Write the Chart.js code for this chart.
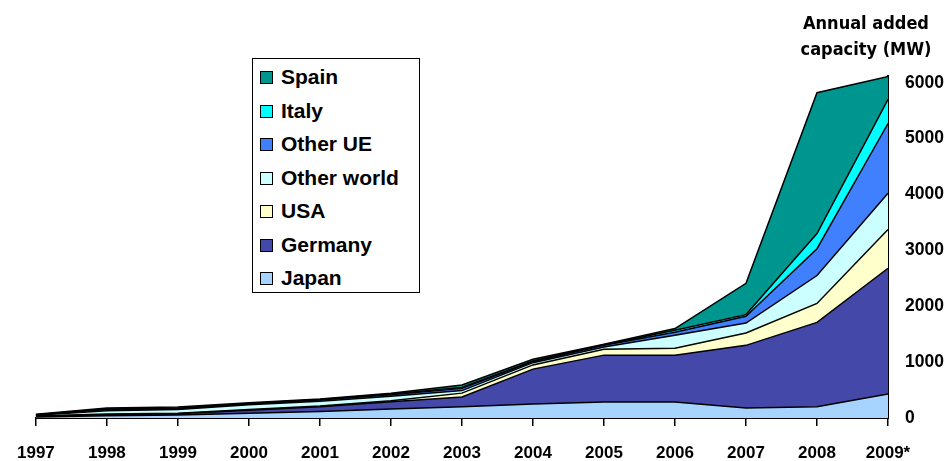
<!DOCTYPE html>
<html><head><meta charset="utf-8">
<script src="https://cdn.jsdelivr.net/npm/chart.js@4.4.0/dist/chart.umd.min.js"></script>
<style>
html,body{margin:0;padding:0;background:#fff;}
#wrap{position:relative;width:950px;height:461px;}
#legend{position:absolute;left:252px;top:58px;width:168px;height:235px;border:1px solid #000;background:#fff;box-sizing:border-box;}
.item{position:absolute;left:0;height:24px;line-height:24px;font:bold 21px "Liberation Sans",Arial,sans-serif;color:#000;white-space:nowrap;}
.sw{position:absolute;left:7px;top:6px;width:11px;height:11px;border:1px solid #000;}
.lab{position:absolute;left:28px;top:0;}
</style></head>
<body><div id="wrap"><canvas id="c" width="950" height="461"></canvas><div id="legend"></div></div>
<script>
const years = ['1997','1998','1999','2000','2001','2002','2003','2004','2005','2006','2007','2008','2009*'];
const japan      = [20, 40, 55, 85, 115, 160, 200, 250, 285, 285, 180, 200, 430];
const germany    = [10, 20, 20, 55, 85, 130, 175, 625, 840, 840, 1120, 1510, 2250];
const usa        = [5, 10, 10, 10, 15, 20, 70, 75, 105, 125, 220, 340, 695];
const otherWorld = [15, 60, 65, 85, 85, 80, 45, 40, 40, 230, 180, 500, 645];
const otherUE    = [5, 20, 15, 15, 20, 25, 40, 20, 30, 55, 120, 480, 1250];
const italy      = [3, 10, 10, 10, 10, 15, 15, 10, 10, 35, 30, 270, 430];
const spain      = [7, 20, 20, 15, 10, 15, 45, 30, 10, 30, 560, 2520, 410];
const yTicks = [0, 1000, 2000, 3000, 4000, 5000, 6000];
const axisTitle = ['Annual added', 'capacity (MW)'];

const series = [
  {label:'Japan', data:japan, color:'#A6D4FF'},
  {label:'Germany', data:germany, color:'#4448A8'},
  {label:'USA', data:usa, color:'#FFFFCC'},
  {label:'Other world', data:otherWorld, color:'#CCFFFF'},
  {label:'Other UE', data:otherUE, color:'#4080FF'},
  {label:'Italy', data:italy, color:'#00FFFF'},
  {label:'Spain', data:spain, color:'#009690'}
];

const titlePlugin = {
  id:'axisTitle',
  afterDraw(chart){
    const ctx = chart.ctx;
    ctx.save();
    ctx.fillStyle = '#000';
    ctx.font = 'bold 18px "DejaVu Sans Condensed","Liberation Sans",sans-serif';
    ctx.textAlign = 'center';
    ctx.textBaseline = 'alphabetic';
    ctx.fillText(axisTitle[0], 866, 29);
    ctx.fillText(axisTitle[1], 866, 55);
    ctx.restore();
  }
};

const chart = new Chart(document.getElementById('c'), {
  type:'line',
  data:{
    labels:years,
    datasets:series.map((s,i)=>({
      label:s.label, data:s.data, backgroundColor:s.color, borderColor:'#000',
      borderWidth:1.5, pointRadius:0, tension:0, fill: i===0 ? 'origin' : '-1'
    }))
  },
  options:{
    responsive:false, animation:false, devicePixelRatio:1,
    layout:{padding:{left:31, top:76, right:0, bottom:0}},
    plugins:{legend:{display:false}, tooltip:{enabled:false}},
    scales:{
      x:{
        type:'category', offset:false,
        grid:{display:true, drawOnChartArea:false, drawTicks:true, tickLength:8, color:'#000', lineWidth:1.5},
        border:{display:true, color:'#000', width:2},
        ticks:{color:'#000', font:{family:'"Liberation Sans",Arial,sans-serif', weight:'bold', size:17}, padding:17, maxRotation:0, autoSkip:false},
        afterFit(s){ s.height = 43; }
      },
      y:{
        position:'right', stacked:true, min:0, max:6120,
        grid:{display:false, drawTicks:false},
        border:{display:true, color:'#000', width:2},
        ticks:{color:'#000', font:{family:'"Liberation Sans",Arial,sans-serif', weight:'bold', size:17.5}, padding:17, stepSize:1000,
          callback:(v)=>String(v)},
        afterBuildTicks(s){ s.ticks = yTicks.map(v=>({value:v})); },
        afterFit(s){ s.width = 62; }
      }
    }
  },
  plugins:[titlePlugin]
});

const leg = document.getElementById('legend');
series.slice().reverse().forEach((s,i)=>{
  const d = document.createElement('div');
  d.className = 'item';
  d.style.top = (6 + i*33.5) + 'px';
  d.innerHTML = '<span class="sw" style="background:'+s.color+'"></span><span class="lab"></span>';
  d.querySelector('.lab').textContent = s.label;
  leg.appendChild(d);
});
</script></body></html>
